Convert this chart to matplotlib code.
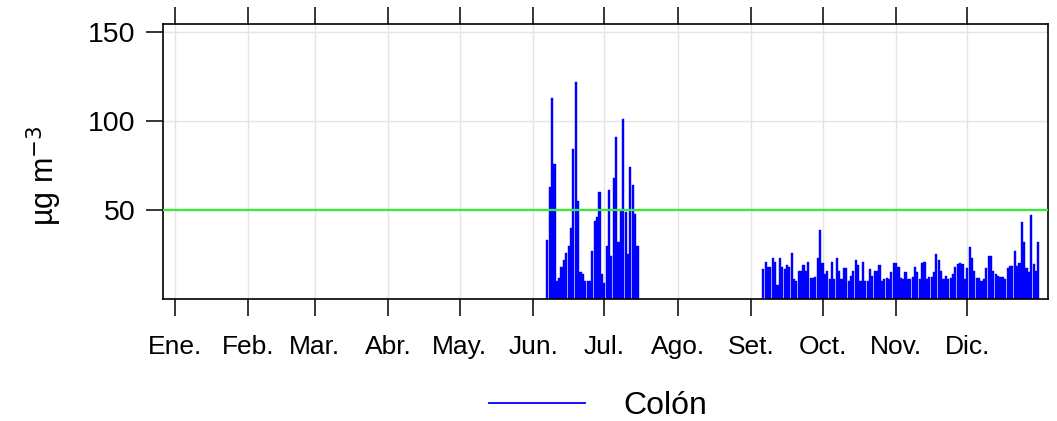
import datetime

import matplotlib
matplotlib.use('Agg')
import matplotlib.pyplot as plt
from matplotlib.lines import Line2D

# daily PM10 at Colon, two measurement periods
START_1 = datetime.date(2015, 6, 7)
VALUES_1 = [33, 63, 113, 76, 10, 12, 18, 22, 26, 30, 40, 84, 122, 55, 15, 14,
            10, 10, 10, 27, 44, 46, 60, 14, 9, 30, 61, 24, 68, 91, 32, 50,
            101, 49, 25, 74, 64, 48, 30]

START_2 = datetime.date(2015, 9, 6)
VALUES_2 = [17, 21, 18, 18, 23, 21, 8, 23, 18, 17, 19, 18, 26, 11, 10, 16,
            16, 19, 16, 21, 12, 12, 12.5, 23, 39, 20, 14, 16, 11, 21, 11, 23,
            16, 11, 17.5, 17.5, 10, 13, 16, 22, 19, 10, 21, 10, 10, 17, 13,
            16, 16, 19, 10, 11, 12, 11.5, 15, 20, 20, 18,
            12, 11, 15, 11, 11, 12.5, 18, 15, 11, 20, 21, 11, 12.5, 12.5, 15,
            25, 22, 16, 11, 13, 11, 12, 14, 18, 19.5, 20, 19.5, 11, 17.5, 29,
            23, 16, 12, 12, 10, 11, 17.5, 24, 24, 16, 14, 13, 12.5, 12.5, 11,
            17.5, 18.5, 18.5, 27, 18.5, 20, 43.5, 32, 17.5, 15, 47, 19.5, 16,
            32]

LIMIT = 50
STATION = 'Colón'
MONTHS = ['Ene.', 'Feb.', 'Mar.', 'Abr.', 'May.', 'Jun.', 'Jul.', 'Ago.',
          'Set.', 'Oct.', 'Nov.', 'Dic.']
YTICKS = [50, 100, 150]

BLUE = '#0000ff'

plt.rcParams['font.family'] = ['Liberation Sans', 'DejaVu Sans']


def dates_from(start, n):
    return [start + datetime.timedelta(days=i) for i in range(n)]


fig = plt.figure(figsize=(10.57, 4.21), dpi=100)
ax = fig.add_axes([0.1542, 0.2898, 0.8372, 0.6532])

jan1 = datetime.date(2015, 1, 1)
month_starts = [datetime.date(2015, m, 1) for m in range(1, 13)]

ax.grid(True, color='#e4e4e4', linewidth=1.0, zorder=0)
ax.set_axisbelow(True)

for start, vals in ((START_1, VALUES_1), (START_2, VALUES_2)):
    ax.bar(dates_from(start, len(vals)), vals, width=0.9, color=BLUE,
           edgecolor=BLUE, linewidth=0.3, zorder=2)

ax.axhline(LIMIT, color='#33ee33', linewidth=1.6, zorder=3)

ax.set_xlim(jan1 - datetime.timedelta(days=5.06),
            jan1 + datetime.timedelta(days=368.2))
ax.set_ylim(0, 154.5)

ax.set_xticks(month_starts)
ax.set_xticklabels(MONTHS)
ax.set_yticks(YTICKS)
ax.tick_params(axis='x', top=True, bottom=True, direction='out', length=12,
               width=1.1, labelsize=19, pad=14)
ax.tick_params(axis='y', left=True, right=False, direction='out', length=12,
               width=1.1, labelsize=20.5, pad=8)
for s in ax.spines.values():
    s.set_linewidth(1.2)

ax.set_ylabel('µg m$^{-3}$', fontsize=22)
ax.yaxis.set_label_coords(-0.112, 0.45)

handle = Line2D([], [], color=BLUE, linewidth=1.3)
ax.legend([handle], [STATION], loc='upper center', bbox_to_anchor=(0.492, -0.23),
          frameon=False, fontsize=23, handlelength=3.0, handletextpad=1.2)

fig.savefig('out.png', dpi=100)
